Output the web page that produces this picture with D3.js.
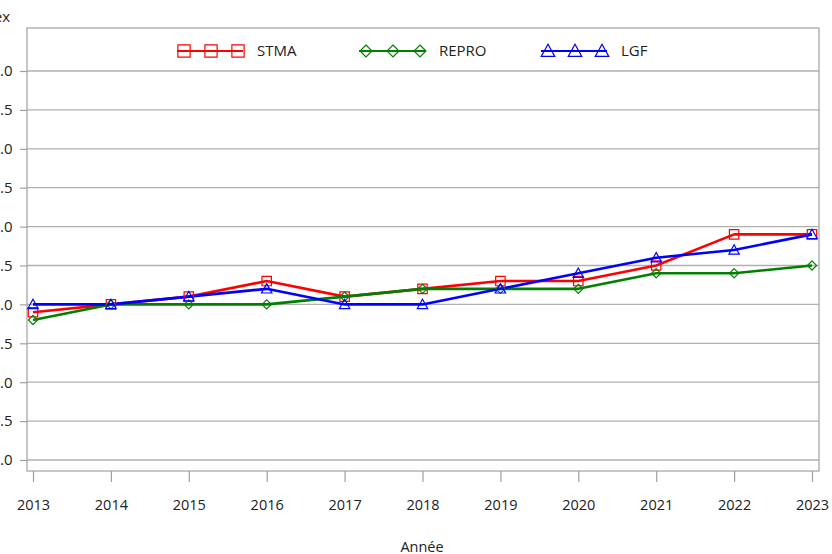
<!DOCTYPE html>
<html><head><meta charset="utf-8">
<script src="https://cdn.jsdelivr.net/npm/d3@7"></script>
<style>body{margin:0;background:#fff}svg{display:block}text{font-family:"Open Sans","Noto Sans",sans-serif;fill:#222}</style>
</head><body><svg id="c" width="832" height="554"></svg>
<script>
const years = [2013,2014,2015,2016,2017,2018,2019,2020,2021,2022,2023];
const stma  = [-0.1,0.0,0.1,0.3,0.1,0.2,0.3,0.3,0.5,0.9,0.9];
const repro = [-0.2,0.0,0.0,0.0,0.1,0.2,0.2,0.2,0.4,0.4,0.5];
const lgf   = [0.0,0.0,0.1,0.2,0.0,0.0,0.2,0.4,0.6,0.7,0.9];
const yTicks = [-2.0,-1.5,-1.0,-0.5,0.0,0.5,1.0,1.5,2.0,2.5,3.0];
const seriesNames = ["STMA","REPRO","LGF"];

const svg = d3.select("#c");
const x = d3.scaleLinear().domain([2013,2023]).range([33,812]);
const y = d3.scaleLinear().domain([-2.0,3.0]).range([460,71]);
const L=27,R=819,T=28,B=471;

svg.append("g").selectAll("line").data(yTicks).join("line")
  .attr("x1",L).attr("x2",R).attr("y1",d=>y(d)).attr("y2",d=>y(d))
  .attr("stroke","#b0b0b0").attr("stroke-width",1.3);
svg.append("rect").attr("x",L).attr("y",T).attr("width",R-L).attr("height",B-T)
  .attr("fill","none").attr("stroke","#a8a8a8").attr("stroke-width",1.3);

const ya = svg.append("g").attr("transform",`translate(${L},0)`)
  .call(d3.axisLeft(y).tickValues(yTicks).tickFormat(d3.format(".1f")).tickSize(7).tickPadding(7.5));
ya.select(".domain").remove();
ya.selectAll("line").attr("stroke","#a0a0a0").attr("stroke-width",1.2);
ya.selectAll("text").style("font-size","15px").attr("fill","#222");

const xa = svg.append("g").attr("transform",`translate(0,${B})`)
  .call(d3.axisBottom(x).tickValues(years).tickFormat(d3.format("d")).tickSize(11).tickPadding(18));
xa.select(".domain").remove();
xa.selectAll("line").attr("stroke","#a0a0a0").attr("stroke-width",1.2);
xa.selectAll("text").style("font-size","14.5px").attr("fill","#222");

svg.append("text").attr("x",10).attr("y",22).attr("text-anchor","end").style("font-size","15px").text("Index");
svg.append("text").attr("x",422).attr("y",552).attr("text-anchor","middle").style("font-size","14.5px").text("Année");

const sq = s=>`M${-s},${-s}H${s}V${s}H${-s}Z`;
const dia = s=>`M0,${-s}L${s},0L0,${s}L${-s},0Z`;
const tri = s=>`M0,${-s}L${s},${s*0.8}L${-s},${s*0.8}Z`;
const series = [
  {name:seriesNames[0], vals:stma, color:"#ff0000", sym:sq, r:4.7},
  {name:seriesNames[1], vals:repro, color:"#008000", sym:dia, r:4.6},
  {name:seriesNames[2], vals:lgf, color:"#0000ff", sym:tri, r:5.2}
];
const line = d3.line().x((d,i)=>x(years[i])).y(d=>y(d));
series.forEach(s=>{
  svg.append("path").datum(s.vals).attr("d",line).attr("fill","none")
    .attr("stroke",s.color).attr("stroke-width",2.6).attr("stroke-linejoin","round");
});
series.forEach(s=>{
  svg.append("g").selectAll("path").data(s.vals).join("path")
    .attr("transform",(d,i)=>`translate(${x(years[i])},${y(d)})`)
    .attr("d",s.sym(s.r)).attr("fill","none")
    .attr("stroke",s.color).attr("stroke-width",1.2);
});

const legX=[178,360,542];
series.forEach((s,k)=>{
  const g=svg.append("g");
  const x0=legX[k];
  g.append("line").attr("x1",x0-1).attr("x2",x0+65).attr("y1",51).attr("y2",51).attr("stroke",s.color).attr("stroke-width",2);
  [6,33,60].forEach(o=>{
    g.append("path").attr("transform",`translate(${x0+o},51)`).attr("d",s.sym(s.r*1.3))
      .attr("fill","none").attr("stroke",s.color).attr("stroke-width",1.2);
  });
  g.append("text").attr("x",x0+79).attr("y",56).style("font-size","15px").text(s.name);
});
</script></body></html>
